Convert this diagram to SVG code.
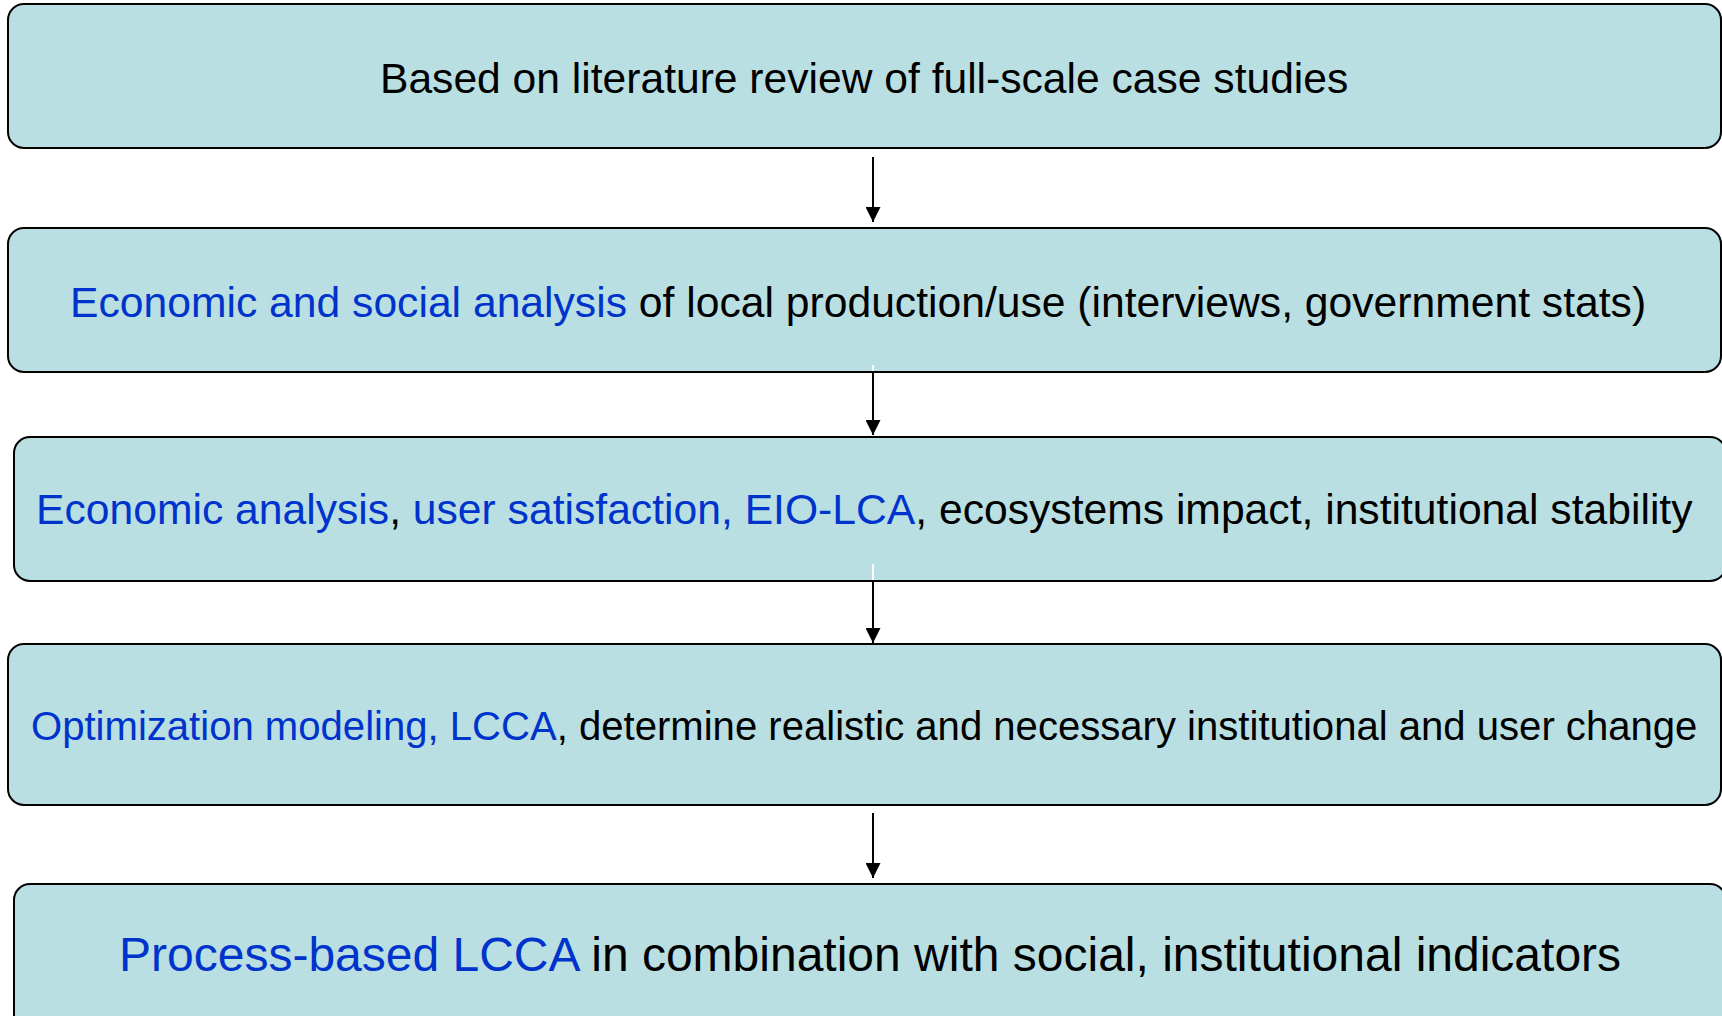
<svg xmlns="http://www.w3.org/2000/svg" width="1722" height="1016" viewBox="0 0 1722 1016">
  <style>
    .box { fill: #B9DFE2; stroke: #000; stroke-width: 2; }
    .lbl { font-family: "Liberation Sans", Arial, sans-serif; fill: #000; }
    .hl { fill: #0033CC; }
    .conn { stroke: #000; stroke-width: 2; fill: none; }
    .inner { stroke: #fff; stroke-width: 2; }
  </style>
  <defs>
    <marker id="arrow" markerWidth="16" markerHeight="15" refX="16" refY="8" orient="auto" markerUnits="userSpaceOnUse" viewBox="0 0 16 16">
      <path d="M0,0 L16,8 L0,16 Z" fill="#000"/>
    </marker>
  </defs>

  <rect width="1722" height="1016" fill="#fff"/>

  <g id="step1">
    <rect class="box" x="8" y="4" width="1713" height="144" rx="16"/>
    <text class="lbl" x="380" y="93" font-size="42.6">Based on literature review of full-scale case studies</text>
  </g>

  <g id="step2">
    <rect class="box" x="8" y="228" width="1713" height="144" rx="16"/>
    <text class="lbl" x="70" y="317" font-size="42.65"><tspan class="hl">Economic and social analysis</tspan> of local production/use (interviews, government stats)</text>
  </g>

  <g id="step3">
    <rect class="box" x="14" y="437" width="1712" height="144" rx="16"/>
    <text class="lbl" x="36" y="524" font-size="42.65"><tspan class="hl">Economic analysis</tspan>, <tspan class="hl">user satisfaction, EIO-LCA</tspan>, ecosystems impact, institutional stability</text>
  </g>

  <g id="step4">
    <rect class="box" x="8" y="644" width="1713" height="161" rx="16"/>
    <text class="lbl" x="31" y="740" font-size="40.1"><tspan class="hl">Optimization modeling, LCCA</tspan>, determine realistic and necessary institutional and user change</text>
  </g>

  <g id="step5">
    <rect class="box" x="14" y="884" width="1712" height="160" rx="16"/>
    <text class="lbl" x="119" y="971" font-size="48"><tspan class="hl">Process-based LCCA</tspan> in combination with social, institutional indicators</text>
  </g>

  <g id="connectors">
    <line class="conn" x1="873" y1="157" x2="873" y2="222" marker-end="url(#arrow)"/>
    <line class="inner" x1="873" y1="365" x2="873" y2="371"/>
    <line class="conn" x1="873" y1="373" x2="873" y2="435" marker-end="url(#arrow)"/>
    <line class="inner" x1="873" y1="564" x2="873" y2="580"/>
    <line class="conn" x1="873" y1="582" x2="873" y2="643" marker-end="url(#arrow)"/>
    <line class="conn" x1="873" y1="813" x2="873" y2="878" marker-end="url(#arrow)"/>
  </g>
</svg>
